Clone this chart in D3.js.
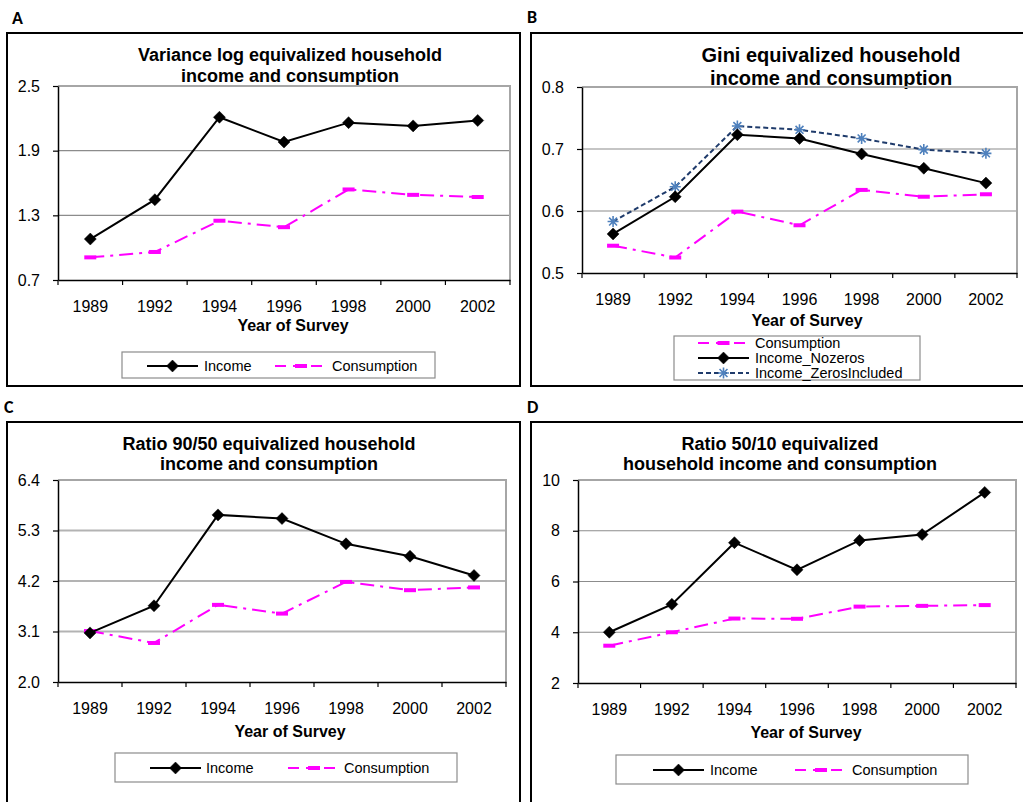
<!DOCTYPE html>
<html><head><meta charset="utf-8">
<script src="https://cdn.jsdelivr.net/npm/d3@7"></script>
<style>
html,body{margin:0;padding:0;background:#fff;}
svg{display:block;font-family:"Liberation Sans",Arial,sans-serif;}
</style></head>
<body><svg id="c" width="1023" height="802"></svg>
<script>
// ---------- data ----------
const years = ["1989","1992","1994","1996","1998","2000","2002"];

const varIncome      = [1.08, 1.445, 2.21, 1.98, 2.16, 2.13, 2.18];
const varConsumption = [0.91, 0.96, 1.25, 1.19, 1.54, 1.49, 1.47];
const varTicks = [0.7, 1.3, 1.9, 2.5];

const giniConsumption    = [0.544, 0.525, 0.599, 0.577, 0.634, 0.623, 0.627];
const giniIncomeNozeros  = [0.563, 0.623, 0.723, 0.717, 0.692, 0.669, 0.645];
const giniIncomeZeros    = [0.583, 0.639, 0.737, 0.731, 0.717, 0.699, 0.693];
const giniTicks = [0.5, 0.6, 0.7, 0.8];

const r9050Income      = [3.07, 3.66, 5.64, 5.56, 5.01, 4.74, 4.32];
const r9050Consumption = [3.11, 2.85, 3.68, 3.49, 4.18, 4.00, 4.06];
const r9050Ticks = [2.0, 3.1, 4.2, 5.3, 6.4];

const r5010Income      = [4.0, 5.1, 7.53, 6.46, 7.62, 7.85, 9.51];
const r5010Consumption = [3.47, 4.0, 4.54, 4.53, 5.01, 5.04, 5.07];
const r5010Ticks = [2, 4, 6, 8, 10];

const panelLabels = ["A","B","C","D"];
const xTitle = "Year of Survey";

// ---------- styles ----------
const STY = {
  income:  {color:"#000", width:2, dash:null, marker:"diamond", legendDash:null},
  cons:    {color:"#FF00FF", width:2, dash:"14,6,3,6", marker:"bar", legendDash:"11,7"},
  zeros:   {color:"#1F3B6B", width:2, dash:"5,3", marker:"star", mcolor:"#4F81BD", legendDash:"5,3"}
};

const svg = d3.select("#c");

function drawMarker(g, kind, cx, cy, sty){
  if(kind==="diamond"){
    const s=6;
    g.append("path").attr("d",`M${cx},${cy-s}L${cx+s},${cy}L${cx},${cy+s}L${cx-s},${cy}Z`)
      .attr("fill","#000").attr("stroke","#000").attr("stroke-width",0.5);
  } else if(kind==="bar"){
    g.append("rect").attr("x",cx-6).attr("y",cy-2).attr("width",12).attr("height",4)
      .attr("fill",sty.color);
  } else if(kind==="star"){
    const r=5.5, d=r*0.72;
    const p=`M${cx},${cy-r}L${cx},${cy+r}M${cx-d},${cy-d}L${cx+d},${cy+d}M${cx-d},${cy+d}L${cx+d},${cy-d}M${cx-r},${cy}L${cx+r},${cy}`;
    g.append("path").attr("d",p).attr("stroke",sty.mcolor).attr("stroke-width",1.6).attr("fill","none");
  }
}

function panel(cfg){
  const g = svg.append("g");
  // frame
  g.append("rect").attr("x",cfg.frame[0]).attr("y",cfg.frame[1])
    .attr("width",cfg.frame[2]-cfg.frame[0]).attr("height",cfg.frame[3]-cfg.frame[1])
    .attr("fill","none").attr("stroke","#000").attr("stroke-width",2);
  // panel label
  g.append("text").attr("x",cfg.label[0]).attr("y",cfg.label[1])
    .attr("font-family","Carlito,Calibri,'Liberation Sans',sans-serif")
    .attr("font-weight","bold").attr("font-size",18).text(cfg.labelText);
  // title
  cfg.title.forEach((t,i)=>{
    g.append("text").attr("x",cfg.titleX).attr("y",cfg.titleY+i*cfg.titleLH)
      .attr("text-anchor","middle").attr("font-weight","bold").attr("font-size",cfg.titleFS).text(t);
  });
  const [x0,x1,y0,y1] = cfg.plot;
  const x = d3.scaleBand().domain(years).range([x0,x1]).padding(0);
  const y = d3.scaleLinear().domain([cfg.ticks[0], cfg.ticks[cfg.ticks.length-1]]).range([y1,y0]);
  const cx = d => x(d)+x.bandwidth()/2;

  // gridlines
  g.append("g").selectAll("line").data(cfg.ticks.slice(1,-1)).join("line")
    .attr("x1",x0).attr("x2",x1).attr("y1",d=>y(d)).attr("y2",d=>y(d))
    .attr("stroke",cfg.gridColor||"#8c8c8c").attr("stroke-width",cfg.gridW||1.2);
  // top & right border (gray)
  g.append("path").attr("d",`M${x0},${y(cfg.ticks[cfg.ticks.length-1])}H${x1}V${y1}`)
    .attr("fill","none").attr("stroke","#a6a6a6").attr("stroke-width",2);

  // y axis
  const ya = g.append("g").attr("transform",`translate(${x0},0)`)
    .call(d3.axisLeft(y).tickValues(cfg.ticks).tickFormat(cfg.fmt).tickSize(5).tickPadding(13).tickSizeOuter(0));
  ya.select(".domain").attr("stroke","#000").attr("stroke-width",1.5);
  ya.selectAll(".tick line").attr("stroke","#000").attr("stroke-width",1.2);
  ya.selectAll("text").attr("font-size",16).attr("fill","#000").attr("font-family","'Liberation Sans',Arial,sans-serif");

  // x axis
  const xa = g.append("g").attr("transform",`translate(0,${y1})`)
    .call(d3.axisBottom(x).tickSize(0).tickPadding(cfg.xPad||21).tickSizeOuter(0));
  xa.select(".domain").attr("stroke","#000").attr("stroke-width",1.5);
  xa.selectAll("text").attr("font-size",16).attr("fill","#000").attr("font-family","'Liberation Sans',Arial,sans-serif");
  const bounds = years.map(d=>x(d)).concat([x.range()[1]]);
  g.append("g").selectAll("line").data(bounds).join("line")
    .attr("x1",d=>d).attr("x2",d=>d).attr("y1",y1).attr("y2",y1+5)
    .attr("stroke","#000").attr("stroke-width",1.2);

  // x title
  g.append("text").attr("x",cfg.xTitleX).attr("y",cfg.xTitleY).attr("text-anchor","middle")
    .attr("font-weight","bold").attr("font-size",16).text(xTitle);

  // series
  cfg.series.forEach(s=>{
    const sty = STY[s.style];
    const line = d3.line().x((d,i)=>cx(years[i])).y(d=>y(d));
    g.append("path").datum(s.values).attr("d",line).attr("fill","none")
      .attr("stroke",sty.color).attr("stroke-width",sty.width)
      .attr("stroke-dasharray",sty.dash);
    const mg = g.append("g");
    s.values.forEach((v,i)=>drawMarker(mg, sty.marker, cx(years[i]), y(v), sty));
  });

  // legend
  const L = cfg.legend;
  g.append("rect").attr("x",L.box[0]).attr("y",L.box[1]).attr("width",L.box[2]-L.box[0])
    .attr("height",L.box[3]-L.box[1]).attr("fill","#fff").attr("stroke","#8c8c8c").attr("stroke-width",1.2);
  L.items.forEach(it=>{
    const sty = STY[it.style];
    g.append("line").attr("x1",it.lx0).attr("x2",it.lx1).attr("y1",it.y).attr("y2",it.y)
      .attr("stroke",sty.color).attr("stroke-width",sty.width).attr("stroke-dasharray",sty.legendDash);
    drawMarker(g, sty.marker, (it.lx0+it.lx1)/2, it.y, sty);
    g.append("text").attr("x",it.tx).attr("y",it.y).attr("dy","0.35em")
      .attr("font-size",14.5).text(it.name);
  });
}

// Panel A
panel({
  frame:[7,33,520,386], label:[12,24], labelText:panelLabels[0],
  title:["Variance log equivalized household","income and consumption"], titleX:290, titleY:61, titleLH:21, titleFS:18,
  plot:[58,510,86,280], ticks:varTicks, fmt:d3.format(".1f"),
  xTitleX:293, xTitleY:331,
  series:[{values:varConsumption, style:"cons"},{values:varIncome, style:"income"}],
  legend:{box:[122,352,435,378], items:[
    {name:"Income", style:"income", lx0:147, lx1:198, tx:204, y:366},
    {name:"Consumption", style:"cons", lx0:275, lx1:327, tx:332, y:366}]}
});

// Panel B
panel({
  frame:[531,33,1030,386], label:[527,23], labelText:panelLabels[1],
  title:["Gini equivalized household","income and consumption"], titleX:831, titleY:62, titleLH:23, titleFS:20,
  plot:[582,1017,87,273], ticks:giniTicks, fmt:d3.format(".1f"),
  xTitleX:807, xTitleY:326, xPad:21,
  series:[{values:giniConsumption, style:"cons"},{values:giniIncomeZeros, style:"zeros"},{values:giniIncomeNozeros, style:"income"}],
  legend:{box:[674,336,920,380], items:[
    {name:"Consumption", style:"cons", lx0:698, lx1:749, tx:755, y:343},
    {name:"Income_Nozeros", style:"income", lx0:698, lx1:749, tx:755, y:358},
    {name:"Income_ZerosIncluded", style:"zeros", lx0:698, lx1:749, tx:755, y:373}]}
});

// Panel C
panel({
  frame:[7,422,520,810], label:[4,413], labelText:panelLabels[2],
  title:["Ratio 90/50 equivalized household","income and consumption"], titleX:269, titleY:450, titleLH:20, titleFS:18,
  plot:[58,506,480,682], ticks:r9050Ticks, fmt:d3.format(".1f"),
  xTitleX:290, xTitleY:737, gridColor:"#b3b3b3", gridW:2,
  series:[{values:r9050Consumption, style:"cons"},{values:r9050Income, style:"income"}],
  legend:{box:[115,753,457,782], items:[
    {name:"Income", style:"income", lx0:150, lx1:201, tx:206, y:768},
    {name:"Consumption", style:"cons", lx0:288, lx1:340, tx:344, y:768}]}
});

// Panel D
panel({
  frame:[531,422,1030,810], label:[527,413], labelText:panelLabels[3],
  title:["Ratio 50/10 equivalized","household income and consumption"], titleX:780, titleY:450, titleLH:20, titleFS:18,
  plot:[578,1016,480,683], ticks:r5010Ticks, fmt:d3.format("d"),
  xTitleX:806, xTitleY:738,
  series:[{values:r5010Consumption, style:"cons"},{values:r5010Income, style:"income"}],
  legend:{box:[616,755,968,784], items:[
    {name:"Income", style:"income", lx0:653, lx1:704, tx:710, y:770},
    {name:"Consumption", style:"cons", lx0:795, lx1:847, tx:852, y:770}]}
});
</script></body></html>
